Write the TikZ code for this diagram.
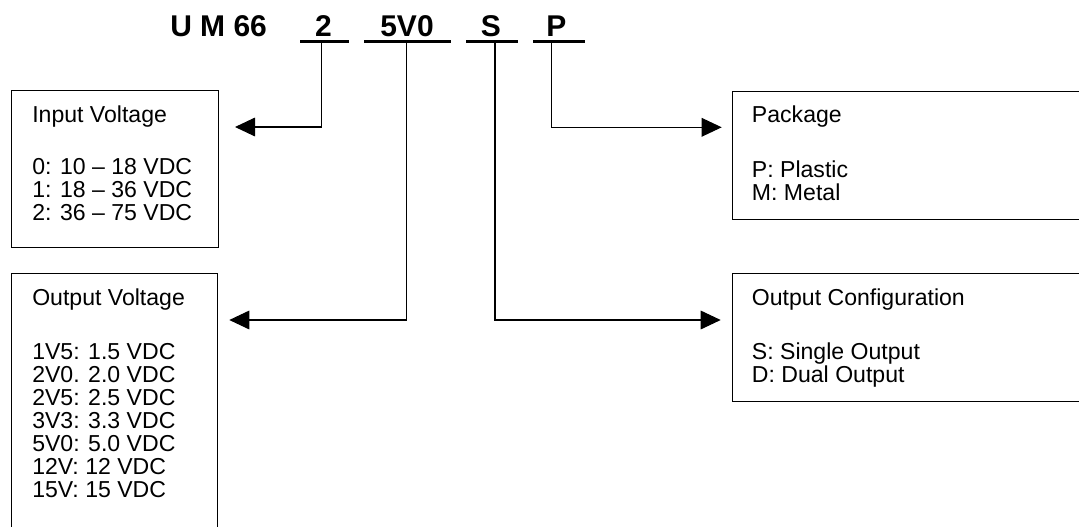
\documentclass[tikz,border=0pt]{standalone}
\usepackage{fontspec}
\setmainfont{Liberation Sans}
\usetikzlibrary{arrows.meta}
\begin{document}
\begin{tikzpicture}[x=0.75pt,y=-0.75pt,
  box/.style={draw,line width=1pt,anchor=north west,inner sep=0pt},
  lbl/.style={anchor=base west,inner sep=0pt,font=\fontsize{17.3}{17.25}\selectfont},
  items/.style={anchor=base west,inner sep=0pt,align=left,font=\fontsize{17.3}{17.25}\selectfont},
  code/.style={anchor=base,inner sep=0pt,font=\fontsize{22.5}{24}\selectfont\bfseries},
  uline/.style={line width=2.25pt},
  conn/.style={line width=0.8pt},
  arr/.style={conn,-{Triangle[length=15pt,width=14pt]}}
]
\useasboundingbox (0,0) rectangle (1079,526);
\clip (0,0) rectangle (1079,526);

% title code
\node[code,anchor=base west] (um) at (170,36) {U M 66};
\node[code] (c2) at (323.5,36) {2};
\node[code] (c5) at (407,36) {5V0};
\node[code] (cs) at (491,36) {S};
\node[code] (cp) at (556.5,36) {P};

% underlines
\coordinate (u2a) at (300,41);   \coordinate (u2b) at (349,41);
\coordinate (u5a) at (364,41);   \coordinate (u5b) at (451,41);
\coordinate (usa) at (466,41);   \coordinate (usb) at (518,41);
\coordinate (upa) at (533,41);   \coordinate (upb) at (585,41);
\draw[uline] (u2a) -- (u2b);
\draw[uline] (u5a) -- (u5b);
\draw[uline] (usa) -- (usb);
\draw[uline] (upa) -- (upb);

% boxes
\node[box,minimum width=155.25pt,minimum height=117.75pt] (inbox) at (11,90) {};
\node[box,minimum width=154.5pt,minimum height=240pt] (outbox) at (11,272.7) {};
\node[box,minimum width=280pt,minimum height=96.4pt] (pkgbox) at (731.7,90.5) {};
\node[box,minimum width=280pt,minimum height=96pt] (cfgbox) at (731.7,272.7) {};

% box texts (items: anchor at the baseline of the last line)
\node[lbl] (inT) at (32,122.5) {Input Voltage};
\node[items] (inL) at (32,220.7) {0: 10 -- 18 VDC\\1: 18 -- 36 VDC\\2: 36 -- 75 VDC};
\node[lbl] (outT) at (32,305) {Output Voltage};
\node[items] (outL) at (32,497.5) {1V5: 1.5 VDC\\2V0. 2.0 VDC\\2V5: 2.5 VDC\\3V3: 3.3 VDC\\5V0: 5.0 VDC\\12V: 12 VDC\\15V: 15 VDC};
\node[lbl] (pkgT) at (751.7,122.5) {Package};
\node[items] (pkgL) at (751.7,200) {P: Plastic\\M: Metal};
\node[lbl] (cfgT) at (751.7,305) {Output Configuration};
\node[items] (cfgL) at (751.7,382.5) {S: Single Output\\D: Dual Output};

% connectors
\coordinate (s2) at (321.7,41);  \coordinate (b2) at (321.7,127); \coordinate (t2) at (235,127);
\coordinate (s5) at (406.7,41);  \coordinate (b5) at (406.7,320); \coordinate (t5) at (229.3,320);
\coordinate (ss) at (495,41);    \coordinate (bs) at (495,320);   \coordinate (ts) at (720.7,320);
\coordinate (sp) at (551.7,41);  \coordinate (bp) at (551.7,127.3); \coordinate (tp) at (721.7,127.3);
\draw[arr] (s2) -- (b2) -- (t2);
\draw[arr] (s5) -- (b5) -- (t5);
\draw[arr] (ss) -- (bs) -- (ts);
\draw[arr] (sp) -- (bp) -- (tp);
\end{tikzpicture}
\end{document}
